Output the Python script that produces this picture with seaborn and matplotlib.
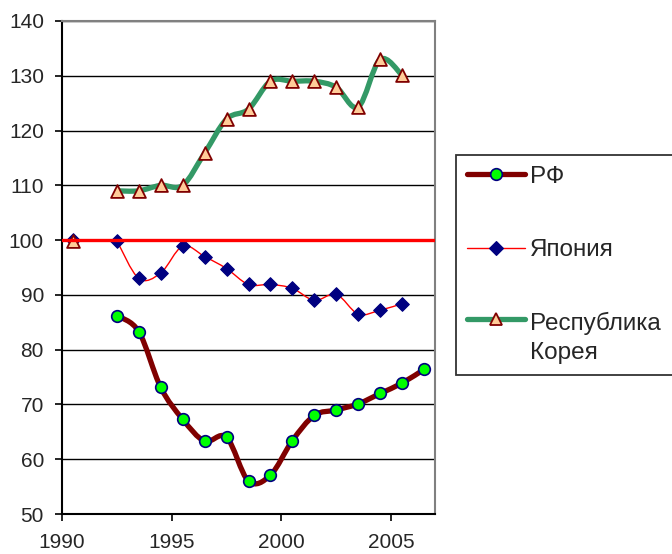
import numpy as np
import pandas as pd
import matplotlib
matplotlib.use("Agg")
import matplotlib.pyplot as plt
from matplotlib.path import Path
from matplotlib.patches import PathPatch
from matplotlib.lines import Line2D
from matplotlib.legend_handler import HandlerLine2D
import seaborn as sns

# Index values by year (1990 = 100); NaN marks a missing year
years = [1990, 1991, 1992, 1993, 1994, 1995, 1996, 1997, 1998, 1999,
         2000, 2001, 2002, 2003, 2004, 2005, 2006]
rf = [np.nan, np.nan, 86.2, 83.3, 73.1, 67.3, 63.3, 64.0, 56.0, 57.1,
      63.4, 68.0, 69.0, 70.1, 72.0, 73.9, 76.4]
japan = [100.0, np.nan, 99.9, 93.0, 94.0, 98.9, 97.0, 94.8, 91.9, 91.9,
         91.2, 89.0, 90.1, 86.5, 87.2, 88.4, np.nan]
korea = [99.8, np.nan, 109.0, 109.0, 110.0, 110.0, 115.9, 122.1, 123.9, 129.0,
         129.0, 129.0, 127.9, 124.3, 133.0, 130.1, np.nan]

labels = ["РФ", "Япония", "Республика\nКорея"]
base_level = 100
x_ticks = [1990, 1995, 2000, 2005]
y_ticks = [50, 60, 70, 80, 90, 100, 110, 120, 130, 140]

# points sit in the middle of each year interval
x_offset = 0.5

df = pd.DataFrame({"year": years, "РФ": rf, "Япония": japan, "Республика\nКорея": korea})
df["x"] = df["year"] + x_offset

sns.set_theme(style="white")
plt.rcParams["font.family"] = ["Liberation Sans", "DejaVu Sans"]

fig = plt.figure(figsize=(6.72, 5.54), dpi=100)
ax = fig.add_axes([62 / 672, 1 - 514 / 554, (435 - 62) / 672, (514 - 21) / 554])


def smooth_path(xs, ys):
    """Bezier path through the points (Excel-style smoothed line), broken at gaps."""
    verts, codes = [], []
    xs = np.asarray(xs, float)
    ys = np.asarray(ys, float)
    ok = ~np.isnan(ys)
    runs, cur = [], []
    for i in range(len(xs)):
        if ok[i]:
            cur.append(i)
        else:
            if cur:
                runs.append(cur)
            cur = []
    if cur:
        runs.append(cur)
    for run in runs:
        if len(run) < 2:
            continue
        p = np.column_stack([xs[run], ys[run]])
        n = len(p)
        verts.append(p[0]); codes.append(Path.MOVETO)
        for i in range(n - 1):
            p0 = p[i - 1] if i > 0 else p[i]
            p1, p2 = p[i], p[i + 1]
            p3 = p[i + 2] if i + 2 < n else p[i + 1]
            c1 = p1 + (p2 - p0) / 6.0
            c2 = p2 - (p3 - p1) / 6.0
            verts += [c1, c2, p2]
            codes += [Path.CURVE4] * 3
    return Path(verts, codes)


styles = {
    "РФ": dict(line="#800000", lw=3.8, marker="o", face="#00FF00", edge="#000080", s=70, ew=1.2),
    "Япония": dict(line="#FF0000", lw=1.0, marker="D", face="#000080", edge="#000080", s=48, ew=0.8),
    "Республика\nКорея": dict(line="#339966", lw=3.8, marker="^", face="#FFCC99", edge="#800000", s=85, ew=1.3),
}

for i, name in enumerate(["Япония", "РФ", "Республика\nКорея"]):
    st = styles[name]
    patch = PathPatch(smooth_path(df["x"], df[name]), facecolor="none",
                      edgecolor=st["line"], lw=st["lw"], capstyle="round",
                      joinstyle="round", zorder=3 + i)
    ax.add_patch(patch)
    sns.scatterplot(data=df, x="x", y=name, marker=st["marker"], s=st["s"],
                    color=st["face"], edgecolor=st["edge"], linewidth=st["ew"],
                    ax=ax, zorder=3.5 + i, legend=False)

# reference level
ax.axhline(base_level, color="#FF0000", lw=2.4, zorder=10)

ax.set_xlim(1990, 2007)
ax.set_ylim(50, 140)
ax.set_xticks(x_ticks)
ax.set_yticks(y_ticks)
ax.set_xlabel("")
ax.set_ylabel("")
ax.yaxis.grid(True, color="black", lw=1.0)
ax.set_axisbelow(True)
ax.tick_params(axis="both", which="major", labelsize=15, length=5, width=1.2,
               color="black", direction="out", left=True, bottom=True)
ax.tick_params(axis="y", pad=8)
ax.tick_params(axis="x", pad=9)
for side in ["left", "bottom"]:
    ax.spines[side].set_color("black")
    ax.spines[side].set_linewidth(1.5)
for side in ["top", "right"]:
    ax.spines[side].set_color("#808080")
    ax.spines[side].set_linewidth(1.5)


class TopLineHandler(HandlerLine2D):
    """Legend handle aligned with the first line of a two-line label."""

    def create_artists(self, legend, orig_handle, xdescent, ydescent,
                       width, height, fontsize, trans):
        return super().create_artists(legend, orig_handle, xdescent,
                                      ydescent - 1.55 * fontsize, width, height,
                                      fontsize, trans)


handles = []
for name in labels:
    st = styles[name]
    handles.append(Line2D([0], [0], color=st["line"], lw=st["lw"], marker=st["marker"],
                          markersize=np.sqrt(st["s"]), markerfacecolor=st["face"],
                          markeredgecolor=st["edge"], markeredgewidth=st["ew"]))
leg = fig.legend(handles, labels, loc="upper left",
                 bbox_to_anchor=(456 / 672, 1 - 377 / 554, 0.4, (377 - 155) / 554),
                 mode="expand", borderaxespad=0, fontsize=17.5, frameon=True,
                 fancybox=False, edgecolor="black", labelspacing=2.1,
                 handlelength=2.4, handletextpad=0.2, borderpad=0.45,
                 handler_map={handles[2]: TopLineHandler()})
leg.get_frame().set_linewidth(1.3)
for t in leg.get_texts():
    t.set_linespacing(1.4)

fig.savefig("out.png", dpi=100)
